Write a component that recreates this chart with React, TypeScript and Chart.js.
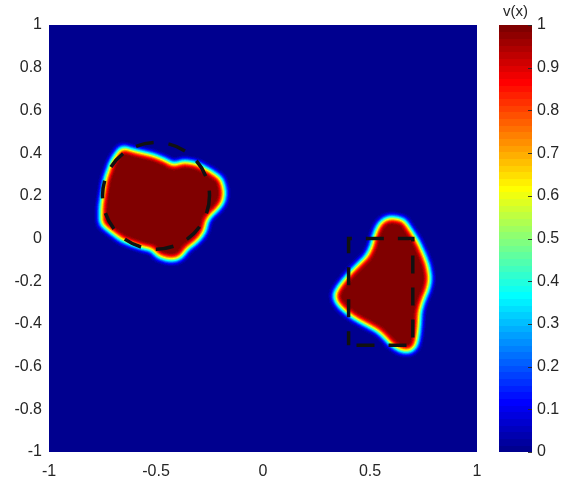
import React, { useEffect, useRef } from "react";
import { Chart, registerables } from "chart.js";

Chart.register(...registerables);

// ---------- data ----------
const xTicks = [-1, -0.5, 0, 0.5, 1];
const yTicks = [-1, -0.8, -0.6, -0.4, -0.2, 0, 0.2, 0.4, 0.6, 0.8, 1];
const colorbarTicks = [0, 0.1, 0.2, 0.3, 0.4, 0.5, 0.6, 0.7, 0.8, 0.9, 1];
const colorbarTitle = "v(x)";

const backgroundValue = 0;
const blobValues = [1, 1];

// blob 1 outline (v = 1 inside)
const blob1X = [-0.655, -0.608, -0.515, -0.455, -0.422, -0.371, -0.315, -0.254, -0.207, -0.193, -0.198, -0.221, -0.254, -0.277, -0.282, -0.301, -0.329, -0.366, -0.385, -0.408, -0.445, -0.487, -0.51, -0.548, -0.608, -0.655, -0.711, -0.744, -0.744, -0.725, -0.697, -0.674];
const blob1Y = [0.413, 0.399, 0.376, 0.352, 0.329, 0.347, 0.338, 0.305, 0.272, 0.221, 0.178, 0.146, 0.117, 0.085, 0.047, 0.014, -0.014, -0.038, -0.07, -0.085, -0.085, -0.07, -0.038, -0.033, -0.014, 0.005, 0.047, 0.075, 0.146, 0.272, 0.352, 0.39];

// blob 2 outline (v = 1 inside)
const blob2X = [0.604, 0.65, 0.678, 0.711, 0.739, 0.758, 0.767, 0.758, 0.739, 0.72, 0.716, 0.711, 0.702, 0.683, 0.646, 0.604, 0.576, 0.538, 0.492, 0.441, 0.389, 0.357, 0.347, 0.361, 0.389, 0.422, 0.459, 0.497, 0.52, 0.534, 0.552, 0.576];
const blob2Y = [0.085, 0.075, 0.033, -0.019, -0.08, -0.131, -0.188, -0.235, -0.277, -0.338, -0.408, -0.455, -0.498, -0.516, -0.512, -0.484, -0.451, -0.418, -0.394, -0.366, -0.329, -0.296, -0.268, -0.239, -0.202, -0.164, -0.127, -0.089, -0.042, 0.014, 0.056, 0.08];

// dashed reference shapes
const circleCenter = [-0.5, 0.2];
const circleRadius = 0.25;
const squareX = [0.4, 0.4, 0.7, 0.7, 0.4];
const squareY = [-0.5, 0, 0, -0.5, -0.5];

// ---------- helpers ----------
function jet64(idx: number): [number, number, number] {
  const i = idx + 1; // 1..64
  let r = 0, g = 0, b = 0;
  if (i <= 8) b = (i + 8) / 16;
  else if (i <= 23) b = 1;
  else if (i <= 39) b = (40 - i) / 16;
  if (i >= 9 && i <= 24) g = (i - 8) / 16;
  else if (i >= 25 && i <= 40) g = 1;
  else if (i >= 41 && i <= 55) g = (56 - i) / 16;
  if (i >= 25 && i <= 40) r = (i - 24) / 16;
  else if (i >= 41 && i <= 55) r = 1;
  else if (i >= 56) r = (72 - i) / 16;
  return [Math.round(r * 255), Math.round(g * 255), Math.round(b * 255)];
}
function colorIndex(v: number) {
  return Math.max(0, Math.min(63, Math.floor(v * 64)));
}

function boxBlur(src: Float32Array, w: number, h: number, r: number) {
  const tmp = new Float32Array(w * h);
  const n = 2 * r + 1;
  for (let y = 0; y < h; y++) {
    for (let x = 0; x < w; x++) {
      let s = 0;
      for (let k = -r; k <= r; k++) {
        const xx = Math.min(w - 1, Math.max(0, x + k));
        s += src[y * w + xx];
      }
      tmp[y * w + x] = s / n;
    }
  }
  for (let y = 0; y < h; y++) {
    for (let x = 0; x < w; x++) {
      let s = 0;
      for (let k = -r; k <= r; k++) {
        const yy = Math.min(h - 1, Math.max(0, y + k));
        s += tmp[yy * w + x];
      }
      src[y * w + x] = s / n;
    }
  }
}

const FONT_FAMILY = "'Liberation Sans', Arial, sans-serif";
const TICK_FONT = { family: FONT_FAMILY, size: 16 };
const TEXT_COLOR = "#262626";

const heatmapPlugin = {
  id: "heatmap",
  beforeDatasetsDraw(chart: any) {
    const { ctx, chartArea: a, scales } = chart;
    const xs = scales.x, ys = scales.y, cb = scales.cb;
    const w = Math.round(a.right - a.left), h = Math.round(a.bottom - a.top);
    const off = document.createElement("canvas");
    off.width = w; off.height = h;
    const oc = off.getContext("2d")!;
    oc.fillStyle = "#000";
    oc.fillRect(0, 0, w, h);
    const blobs = [[blob1X, blob1Y], [blob2X, blob2Y]];
    blobs.forEach(([bx, by], bi) => {
      const lv = Math.round(blobValues[bi] * 255);
      oc.fillStyle = `rgb(${lv},${lv},${lv})`;
      oc.strokeStyle = oc.fillStyle;
      oc.lineWidth = 6;
      oc.lineJoin = "miter";
      oc.beginPath();
      bx.forEach((xv: number, i: number) => {
        const px = xs.getPixelForValue(xv) - a.left;
        const py = ys.getPixelForValue(by[i]) - a.top;
        if (i === 0) oc.moveTo(px, py); else oc.lineTo(px, py);
      });
      oc.closePath();
      oc.fill();
      oc.stroke();
    });
    const img = oc.getImageData(0, 0, w, h);
    const field = new Float32Array(w * h);
    for (let i = 0; i < w * h; i++) field[i] = backgroundValue + img.data[i * 4] / 255;
    boxBlur(field, w, h, 4);
    boxBlur(field, w, h, 3);
    const lut = Array.from({ length: 64 }, (_, i) => jet64(i));
    for (let i = 0; i < w * h; i++) {
      const c = lut[colorIndex(field[i])];
      img.data[i * 4] = c[0];
      img.data[i * 4 + 1] = c[1];
      img.data[i * 4 + 2] = c[2];
      img.data[i * 4 + 3] = 255;
    }
    oc.putImageData(img, 0, 0);
    ctx.save();
    ctx.drawImage(off, a.left, a.top);

    // colorbar
    const cbLeft = 499, cbRight = 532;
    for (let i = 0; i < 64; i++) {
      const c = lut[i];
      const y0 = cb.getPixelForValue(i / 64);
      const y1 = cb.getPixelForValue((i + 1) / 64);
      ctx.fillStyle = `rgb(${c[0]},${c[1]},${c[2]})`;
      ctx.fillRect(cbLeft, Math.floor(y1), cbRight - cbLeft, Math.ceil(y0) - Math.floor(y1));
    }
    ctx.strokeStyle = "rgba(38,38,38,0.9)";
    ctx.lineWidth = 1;
    colorbarTicks.forEach((t) => {
      const y = Math.round(cb.getPixelForValue(t)) + 0.5;
      ctx.beginPath();
      ctx.moveTo(cbRight - 4, y);
      ctx.lineTo(cbRight, y);
      ctx.stroke();
    });
    ctx.fillStyle = TEXT_COLOR;
    ctx.font = `15px ${FONT_FAMILY}`;
    ctx.textAlign = "center";
    ctx.textBaseline = "middle";
    ctx.fillText(colorbarTitle, (cbLeft + cbRight) / 2, 12);
    ctx.restore();
  },
  afterDatasetsDraw(chart: any) {
    const { ctx, scales } = chart;
    const xs = scales.x, ys = scales.y;
    const cx = xs.getPixelForValue(circleCenter[0]);
    const cy = ys.getPixelForValue(circleCenter[1]);
    const rx = Math.abs(xs.getPixelForValue(circleCenter[0] + circleRadius) - cx);
    const ry = Math.abs(ys.getPixelForValue(circleCenter[1] + circleRadius) - cy);
    ctx.save();
    ctx.strokeStyle = "#111";
    ctx.lineWidth = 3.5;
    ctx.setLineDash([18, 15]);
    ctx.beginPath();
    ctx.ellipse(cx, cy, rx, ry, 0, 0, Math.PI * 2);
    ctx.stroke();
    ctx.restore();
  },
};

export default function App() {
  const ref = useRef<HTMLCanvasElement>(null);
  useEffect(() => {
    if (!ref.current) return;
    const chart = new Chart(ref.current, {
      type: "scatter",
      data: {
        datasets: [
          {
            data: squareX.map((x, i) => ({ x, y: squareY[i] })),
            showLine: true,
            borderColor: "#111",
            borderWidth: 3.5,
            borderDash: [18, 14],
            borderDashOffset: 4,
            pointRadius: 0,
            fill: false,
            tension: 0,
          },
        ],
      },
      plugins: [heatmapPlugin],
      options: {
        animation: false,
        responsive: false,
        layout: { padding: { top: 25, left: 0, right: 0, bottom: 0 } },
        plugins: { legend: { display: false }, tooltip: { enabled: false } },
        scales: {
          x: {
            type: "linear",
            min: -1,
            max: 1,
            afterBuildTicks: (s: any) => { s.ticks = xTicks.map((v) => ({ value: v })); },
            afterFit: (s: any) => { s.height = 41; },
            grid: { display: false, drawTicks: false },
            border: { display: false },
            ticks: { font: TICK_FONT, color: TEXT_COLOR, padding: 10, callback: (v: any) => String(v), maxRotation: 0, autoSkip: false },
          },
          y: {
            type: "linear",
            position: "left",
            min: -1,
            max: 1,
            afterBuildTicks: (s: any) => { s.ticks = yTicks.map((v) => ({ value: v })); },
            afterFit: (s: any) => { s.width = 49; },
            grid: { display: false, drawTicks: false },
            border: { display: false },
            ticks: { font: TICK_FONT, color: TEXT_COLOR, padding: 7, callback: (v: any) => String(v), autoSkip: false },
          },
          cb: {
            type: "linear",
            position: "right",
            min: 0,
            max: 1,
            afterBuildTicks: (s: any) => { s.ticks = colorbarTicks.map((v) => ({ value: v })); },
            afterFit: (s: any) => { s.width = 92; },
            grid: { display: false, drawTicks: true, tickLength: 57 },
            border: { display: false },
            ticks: { font: TICK_FONT, color: TEXT_COLOR, padding: 3, callback: (v: any) => String(v), autoSkip: false },
          },
        },
      },
    } as any);
    return () => chart.destroy();
  }, []);
  return (
    <div style={{ position: "absolute", left: 0, top: 0, width: 569, height: 493, background: "#fff" }}>
      <canvas ref={ref} width={569} height={493} style={{ display: "block" }} />
    </div>
  );
}
